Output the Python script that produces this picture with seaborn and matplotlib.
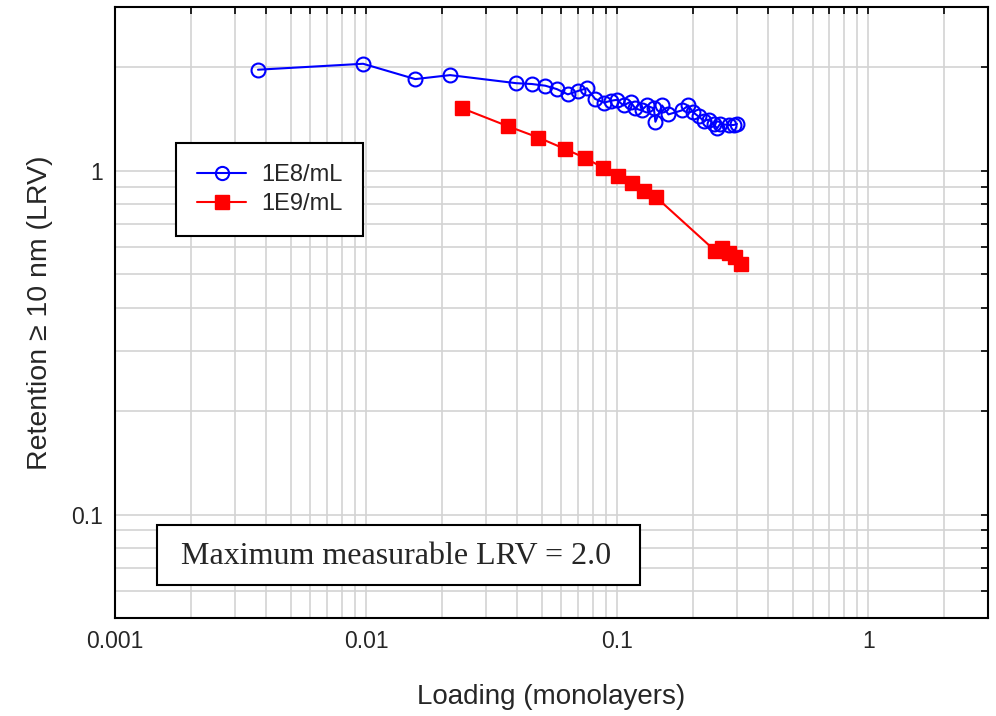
import matplotlib
matplotlib.use("Agg")
import matplotlib.pyplot as plt
import matplotlib.ticker as mticker
from matplotlib.patches import Rectangle
import seaborn as sns
import numpy as np
import pandas as pd

# ---- data ----
x_1e8 = [0.00371, 0.00973, 0.0157, 0.0216, 0.0396, 0.0457, 0.0517, 0.0575, 0.0636,
         0.0701, 0.0757, 0.0817, 0.0888, 0.0944, 0.0998, 0.106, 0.113, 0.118, 0.125,
         0.131, 0.140, 0.142, 0.151, 0.160, 0.181, 0.192, 0.201, 0.211, 0.221, 0.232,
         0.242, 0.250, 0.257, 0.278, 0.291, 0.300]
y_1e8 = [1.97, 2.05, 1.85, 1.90, 1.80, 1.79, 1.77, 1.73, 1.67,
         1.71, 1.74, 1.62, 1.58, 1.60, 1.61, 1.55, 1.59, 1.52, 1.50,
         1.55, 1.52, 1.39, 1.55, 1.46, 1.50, 1.55, 1.48, 1.44, 1.40, 1.41,
         1.37, 1.33, 1.37, 1.36, 1.36, 1.37]
x_1e9 = [0.0242, 0.0366, 0.0486, 0.0617, 0.0746, 0.0882, 0.101, 0.115, 0.128, 0.143,
         0.246, 0.261, 0.278, 0.295, 0.311]
y_1e9 = [1.52, 1.35, 1.25, 1.16, 1.09, 1.02, 0.965, 0.921, 0.876, 0.838,
         0.585, 0.598, 0.578, 0.560, 0.535]
series_names = ["1E8/mL", "1E9/mL"]
x_ticks = [0.001, 0.01, 0.1, 1]
x_tick_labels = ["0.001", "0.01", "0.1", "1"]
y_ticks = [0.1, 1]
y_tick_labels = ["0.1", "1"]
note_text = "Maximum measurable LRV = 2.0"

df1 = pd.DataFrame({"x": x_1e8, "y": y_1e8})
df2 = pd.DataFrame({"x": x_1e9, "y": y_1e9})

sns.set_style("white")
plt.rcParams["font.family"] = ["Liberation Sans", "DejaVu Sans"]

W, H = 996, 716
fig = plt.figure(figsize=(W / 100, H / 100), dpi=100)
ax = fig.add_axes([0.1155, 0.1369, 0.8765, 0.8534])

sns.lineplot(data=df1, x="x", y="y", ax=ax, sort=False, estimator=None,
             color="#0000ff", lw=1.5, marker="o", markersize=10,
             markerfacecolor="none", markeredgecolor="#0000ff", markeredgewidth=1.5,
             label=series_names[0])
sns.lineplot(data=df2, x="x", y="y", ax=ax, sort=False, estimator=None,
             color="#ff0000", lw=1.5, marker="s", markersize=10,
             markerfacecolor="#ff0000", markeredgecolor="#ff0000", markeredgewidth=1,
             label=series_names[1])

ax.set_xscale("log")
ax.set_yscale("log")
ax.set_xlim(0.001, 3)
ax.set_ylim(0.05, 3)

ax.xaxis.set_major_locator(mticker.FixedLocator(x_ticks))
ax.xaxis.set_major_formatter(mticker.FixedFormatter(x_tick_labels))
ax.yaxis.set_major_locator(mticker.FixedLocator(y_ticks))
ax.yaxis.set_major_formatter(mticker.FixedFormatter(y_tick_labels))
ax.xaxis.set_minor_locator(mticker.LogLocator(base=10, subs=np.arange(2, 10), numticks=20))
ax.yaxis.set_minor_locator(mticker.LogLocator(base=10, subs=np.arange(2, 10), numticks=20))
ax.xaxis.set_minor_formatter(mticker.NullFormatter())
ax.yaxis.set_minor_formatter(mticker.NullFormatter())

ax.grid(True, which="both", color="#d3d3d3", lw=1.2)
ax.set_axisbelow(True)
ax.tick_params(which="both", direction="in", top=True, right=True,
               length=5, width=1.2, color="black", labelsize=16.5, pad=9)
for s in ax.spines.values():
    s.set_color("black")
    s.set_linewidth(1.5)

ax.set_xlabel("Loading (monolayers)", fontsize=20, labelpad=22)
ax.set_ylabel("Retention \u2265 10 nm (LRV)", fontsize=20.5, labelpad=13)

leg = ax.legend(loc="upper left", bbox_to_anchor=(0.0699, 0.777), borderaxespad=0,
                fancybox=False, frameon=True, fontsize=17, handlelength=2.1,
                handletextpad=0.63, borderpad=0.88, labelspacing=0.3)
leg.get_frame().set_edgecolor("black")
leg.get_frame().set_linewidth(1.5)
leg.get_frame().set_alpha(1)
hs = leg.legend_handles
hs[0].set_markersize(9.5)
hs[1].set_markersize(10)

# annotation box
bx0, by0, bx1, by1 = 157, 525, 640, 585
fig.patches.append(Rectangle((bx0 / W, 1 - by1 / H), (bx1 - bx0) / W, (by1 - by0) / H,
                             transform=fig.transFigure, facecolor="white",
                             edgecolor="black", lw=1.5, zorder=5))
fig.text(396 / W, 1 - 556 / H, note_text, ha="center", va="center", zorder=6,
         fontsize=23, family=["Liberation Serif", "DejaVu Serif"])

fig.savefig("out.png", dpi=100)
